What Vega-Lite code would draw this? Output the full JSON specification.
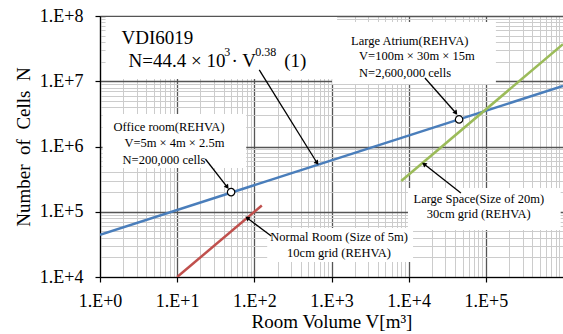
{
  "$schema": "https://vega.github.io/schema/vega-lite/v6.json",
  "width": 463,
  "height": 261,
  "autosize": {"type": "none"},
  "padding": {"left": 100, "top": 16, "right": 0, "bottom": 57},
  "background": "white",
  "config": {
    "font": "Liberation Serif",
    "view": {"stroke": null},
    "axis": {
      "labelFont": "Liberation Serif",
      "titleFont": "Liberation Serif",
      "labelColor": "black",
      "titleColor": "black",
      "titleFontWeight": "normal",
      "domainColor": "black",
      "domainWidth": 1.2,
      "labelOverlap": false,
      "labelFlush": false,
      "gridOpacity": 1
    }
  },
  "datasets": {
    "lines": [
      {"series": "VDI", "V": 1, "N": 44400},
      {"series": "VDI", "V": 1000000, "N": 8460000},
      {"series": "Normal", "V": 10, "N": 10000},
      {"series": "Normal", "V": 125, "N": 125000},
      {"series": "Large", "V": 8000, "N": 296000},
      {"series": "Large", "V": 1000000, "N": 37000000}
    ],
    "points": [
      {"V": 50, "N": 200000},
      {"V": 45000, "N": 2600000}
    ],
    "boxes": [
      {"V": 1.18, "V2": 1181, "N": 96600000, "N2": 10800000},
      {"V": 1.08, "V2": 78.5, "N": 3150000, "N2": 468000},
      {"V": 1018, "V2": 135000, "N": 80900000, "N2": 9080000},
      {"V": 9795, "V2": 933000, "N": 231000, "N2": 52500},
      {"V": 146.8, "V2": 11400, "N": 56400, "N2": 17000}
    ],
    "notes": [
      {"g": "big", "text": "VDI6019", "V": 1.90, "N": 46000000},
      {"g": "big", "text": "N=44.4 × 10", "V": 2.34, "N": 20400000},
      {"g": "big", "text": "· V", "V": 50.5, "N": 20400000},
      {"g": "big", "text": "(1)", "V": 243.7, "N": 20400000},
      {"g": "sup", "text": "3", "V": 40.8, "N": 28100000},
      {"g": "sup", "text": "0.38", "V": 102.8, "N": 28100000},
      {"g": "left", "text": "Office room(REHVA)", "V": 1.50, "N": 1990000},
      {"g": "left", "text": "V=5m × 4m × 2.5m", "V": 2.07, "N": 1130000},
      {"g": "left", "text": "N=200,000 cells", "V": 1.96, "N": 621000},
      {"g": "left", "text": "Large Atrium(REHVA)", "V": 1795, "N": 41400000},
      {"g": "left", "text": "V=100m × 30m × 15m", "V": 2277, "N": 24400000},
      {"g": "left", "text": "N=2,600,000 cells", "V": 2277, "N": 13400000},
      {"g": "center", "text": "Large Space(Size of 20m)", "V": 81100, "N": 157000},
      {"g": "center", "text": "30cm grid (REHVA)", "V": 81100, "N": 92400},
      {"g": "center", "text": "Normal Room (Size of 5m)", "V": 1253, "N": 41000},
      {"g": "center", "text": "10cm grid (REHVA)", "V": 1253, "N": 23300}
    ],
    "arrows": [
      {"dir": "down", "V": 115.8, "N": 14900000, "V2": 651, "N2": 559000},
      {"dir": "down", "V": 23.2, "N": 643000, "V2": 44.6, "N2": 239000},
      {"dir": "down", "V": 16250, "N": 11200000, "V2": 40900, "N2": 3260000},
      {"dir": "up", "V": 47500, "N": 194000, "V2": 15800, "N2": 539000},
      {"dir": "up", "V": 165.5, "N": 42500, "V2": 80.9, "N2": 80200}
    ]
  },
  "layer": [
    {
      "data": {"name": "boxes"},
      "mark": {"type": "rect", "fill": "white", "stroke": null},
      "encoding": {
        "x": {
          "field": "V", "type": "quantitative",
          "scale": {"type": "log", "domain": [1, 1000000], "nice": false},
          "axis": {
            "title": "Room Volume V[m³]",
            "titleFontSize": 19,
            "titlePadding": 2,
            "labelFontSize": 18,
            "labelPadding": 10,
            "tickSize": 5,
            "tickWidth": 1.2,
            "tickColor": {"condition": {"test": "abs(log(datum.value)/LN10 - round(log(datum.value)/LN10)) < 0.001", "value": "black"}, "value": "transparent"},
            "gridColor": {"condition": {"test": "abs(log(datum.value)/LN10 - round(log(datum.value)/LN10)) < 0.001", "value": "#555555"}, "value": "#cccccc"},
            "gridWidth": {"condition": {"test": "abs(log(datum.value)/LN10 - round(log(datum.value)/LN10)) < 0.001", "value": 1.3}, "value": 1},
            "labelExpr": "abs(log(datum.value)/LN10 - round(log(datum.value)/LN10)) < 0.001 ? '1.E+' + round(log(datum.value)/LN10) : ''",
            "values": [1,2,3,4,5,6,7,8,9,10,20,30,40,50,60,70,80,90,100,200,300,400,500,600,700,800,900,1000,2000,3000,4000,5000,6000,7000,8000,9000,10000,20000,30000,40000,50000,60000,70000,80000,90000,100000,200000,300000,400000,500000,600000,700000,800000,900000]
          }
        },
        "x2": {"field": "V2"},
        "y": {
          "field": "N", "type": "quantitative",
          "scale": {"type": "log", "domain": [10000, 100000000], "nice": false},
          "axis": {
            "title": "Number\u00a0 of\u00a0 Cells\u00a0 N",
            "titleFontSize": 19,
            "titlePadding": 6,
            "labelFontSize": 18,
            "labelPadding": 12,
            "tickSize": 5,
            "tickWidth": 1.2,
            "tickColor": {"condition": {"test": "abs(log(datum.value)/LN10 - round(log(datum.value)/LN10)) < 0.001", "value": "black"}, "value": "transparent"},
            "gridColor": {"condition": {"test": "abs(log(datum.value)/LN10 - round(log(datum.value)/LN10)) < 0.001", "value": "#555555"}, "value": "#cccccc"},
            "gridWidth": {"condition": {"test": "abs(log(datum.value)/LN10 - round(log(datum.value)/LN10)) < 0.001", "value": 1.3}, "value": 1},
            "labelExpr": "abs(log(datum.value)/LN10 - round(log(datum.value)/LN10)) < 0.001 ? '1.E+' + round(log(datum.value)/LN10) : ''",
            "values": [10000,20000,30000,40000,50000,60000,70000,80000,90000,100000,200000,300000,400000,500000,600000,700000,800000,900000,1000000,2000000,3000000,4000000,5000000,6000000,7000000,8000000,9000000,10000000,20000000,30000000,40000000,50000000,60000000,70000000,80000000,90000000,100000000]
          }
        },
        "y2": {"field": "N2"}
      }
    },
    {
      "data": {"name": "lines"},
      "mark": {"type": "line", "strokeWidth": 2.5, "clip": true},
      "encoding": {
        "x": {"field": "V", "type": "quantitative"},
        "y": {"field": "N", "type": "quantitative"},
        "color": {
          "field": "series", "type": "nominal",
          "scale": {"domain": ["VDI", "Normal", "Large"], "range": ["#4a7ebb", "#c0504d", "#9bbb59"]},
          "legend": null
        },
        "detail": {"field": "series"}
      }
    },
    {
      "data": {"name": "arrows"},
      "mark": {"type": "rule", "color": "black", "strokeWidth": 1.3},
      "encoding": {
        "x": {"field": "V", "type": "quantitative"},
        "y": {"field": "N", "type": "quantitative"},
        "x2": {"field": "V2"},
        "y2": {"field": "N2"}
      }
    },
    {
      "data": {"name": "arrows"},
      "transform": [{"filter": "datum.dir == 'down'"}],
      "mark": {"type": "point", "shape": "triangle-up", "filled": true, "color": "black", "size": 28, "angle": 143, "opacity": 1},
      "encoding": {
        "x": {"field": "V2", "type": "quantitative"},
        "y": {"field": "N2", "type": "quantitative"}
      }
    },
    {
      "data": {"name": "arrows"},
      "transform": [{"filter": "datum.dir == 'up'"}],
      "mark": {"type": "point", "shape": "triangle-up", "filled": true, "color": "black", "size": 28, "angle": 307, "opacity": 1},
      "encoding": {
        "x": {"field": "V2", "type": "quantitative"},
        "y": {"field": "N2", "type": "quantitative"}
      }
    },
    {
      "data": {"name": "points"},
      "mark": {"type": "point", "shape": "circle", "filled": true, "fill": "white", "stroke": "black", "strokeWidth": 1.2, "size": 55, "opacity": 1},
      "encoding": {
        "x": {"field": "V", "type": "quantitative"},
        "y": {"field": "N", "type": "quantitative"}
      }
    },
    {
      "data": {"name": "notes"},
      "transform": [{"filter": "datum.g == 'big'"}],
      "mark": {"type": "text", "align": "left", "baseline": "middle", "fontSize": 19, "font": "Liberation Serif", "color": "black"},
      "encoding": {
        "x": {"field": "V", "type": "quantitative"},
        "y": {"field": "N", "type": "quantitative"},
        "text": {"field": "text"}
      }
    },
    {
      "data": {"name": "notes"},
      "transform": [{"filter": "datum.g == 'sup'"}],
      "mark": {"type": "text", "align": "left", "baseline": "middle", "fontSize": 12, "font": "Liberation Serif", "color": "black"},
      "encoding": {
        "x": {"field": "V", "type": "quantitative"},
        "y": {"field": "N", "type": "quantitative"},
        "text": {"field": "text"}
      }
    },
    {
      "data": {"name": "notes"},
      "transform": [{"filter": "datum.g == 'left'"}],
      "mark": {"type": "text", "align": "left", "baseline": "middle", "fontSize": 12.5, "font": "Liberation Serif", "color": "black"},
      "encoding": {
        "x": {"field": "V", "type": "quantitative"},
        "y": {"field": "N", "type": "quantitative"},
        "text": {"field": "text"}
      }
    },
    {
      "data": {"name": "notes"},
      "transform": [{"filter": "datum.g == 'center'"}],
      "mark": {"type": "text", "align": "center", "baseline": "middle", "fontSize": 12.5, "font": "Liberation Serif", "color": "black"},
      "encoding": {
        "x": {"field": "V", "type": "quantitative"},
        "y": {"field": "N", "type": "quantitative"},
        "text": {"field": "text"}
      }
    }
  ]
}
